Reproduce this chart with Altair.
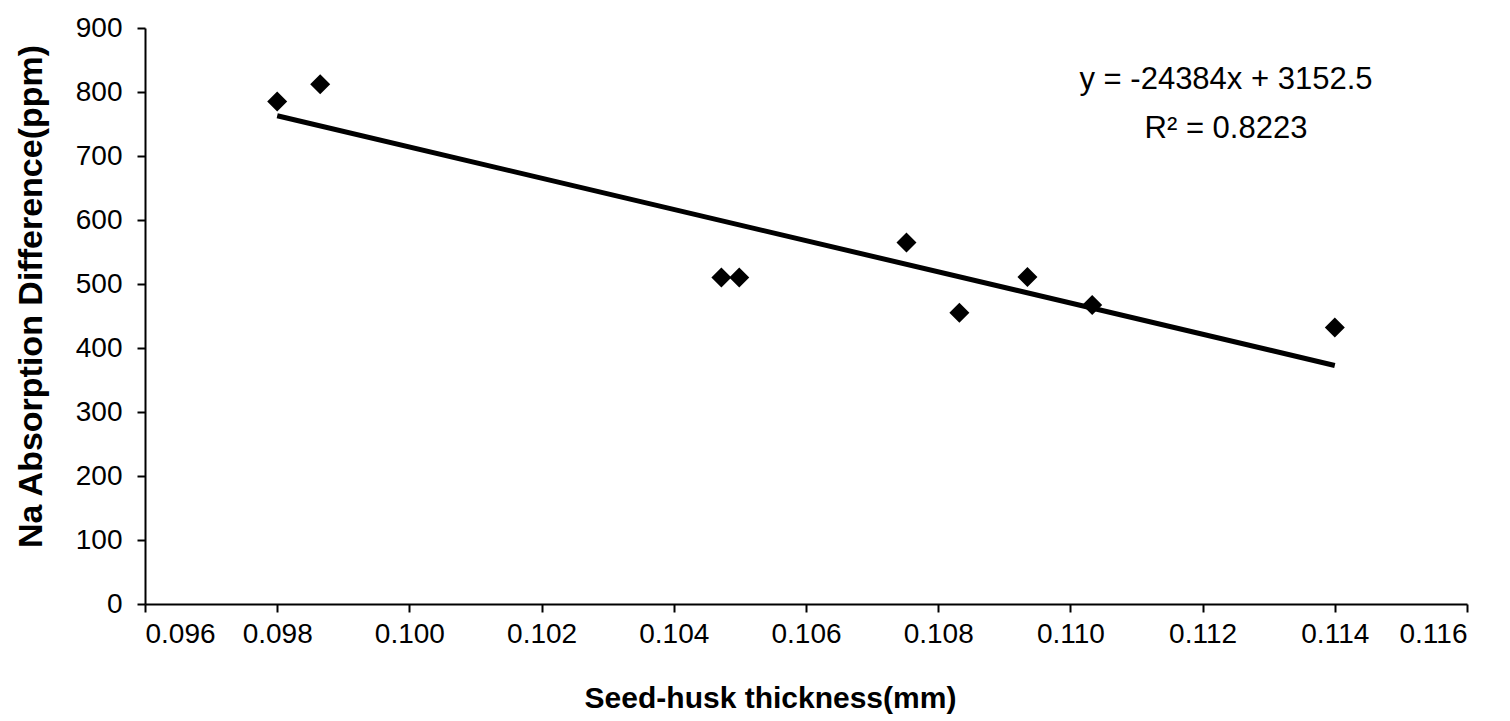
import altair as alt
import pandas as pd

# Data
thickness = [0.0980, 0.09865, 0.10472, 0.10499, 0.10752, 0.10832, 0.10935, 0.11033, 0.1140]
na_diff = [785, 812, 510, 510, 565, 455, 511, 467, 432]

# Trendline stated on chart
slope = -24384
intercept = 3152.5
eq_text = "y = -24384x + 3152.5"
r2_text = "R² = 0.8223"

x_ticks = [0.096, 0.098, 0.100, 0.102, 0.104, 0.106, 0.108, 0.110, 0.112, 0.114, 0.116]
y_ticks = [0, 100, 200, 300, 400, 500, 600, 700, 800, 900]

df = pd.DataFrame({"x": thickness, "y": na_diff})
line_df = pd.DataFrame({"x": [min(thickness), max(thickness)]})

W, H = 1322, 576
FONT = "Liberation Sans"

xscale = alt.Scale(domain=[0.096, 0.116], nice=False, zero=False)
yscale = alt.Scale(domain=[0, 900], nice=False)

xaxis = alt.Axis(
    values=x_ticks, format=".3f", grid=False,
    title="Seed-husk thickness(mm)",
    titleFont=FONT, titleFontSize=30, titleFontWeight="bold", titleColor="black",
    titleX=625, titleY=94, titleBaseline="middle", titleAnchor="middle", titleAlign="center",
    labelFont=FONT, labelFontSize=28, labelColor="black", labelPadding=8,
    domainColor="black", domainWidth=2, tickColor="black", tickWidth=2, tickSize=8,
)
yaxis = alt.Axis(
    values=y_ticks, format="d", grid=False,
    title="Na Absorption Difference(ppm)",
    titleFont=FONT, titleFontSize=34, titleFontWeight="bold", titleColor="black",
    titleX=-114, titleY=268, titleAngle=270, titleBaseline="middle", titleAlign="center",
    labelFont=FONT, labelFontSize=28, labelColor="black", labelPadding=15,
    domainColor="black", domainWidth=2, tickColor="black", tickWidth=2, tickSize=8,
)

points = alt.Chart(df).mark_point(shape="diamond", filled=True, size=400, color="black", opacity=1).encode(
    x=alt.X("x:Q", scale=xscale, axis=xaxis),
    y=alt.Y("y:Q", scale=yscale, axis=yaxis),
)

trend = alt.Chart(line_df).transform_calculate(
    y=f"{slope} * datum.x + {intercept}"
).mark_line(color="black", strokeWidth=5).encode(
    x=alt.X("x:Q", scale=xscale),
    y=alt.Y("y:Q", scale=yscale),
)

eq = alt.Chart(pd.DataFrame({"t": [eq_text]})).mark_text(
    font=FONT, fontSize=31, color="black", align="center", baseline="middle"
).encode(x=alt.value(1081), y=alt.value(52), text="t:N")

r2 = alt.Chart(pd.DataFrame({"t": [r2_text]})).mark_text(
    font=FONT, fontSize=31, color="black", align="center", baseline="middle"
).encode(x=alt.value(1081), y=alt.value(101), text="t:N")

chart = alt.layer(trend, points, eq, r2).properties(
    width=W, height=H,
    autosize=alt.AutoSizeParams(type="none"),
    padding={"left": 145, "top": 28, "right": 43, "bottom": 117},
    background="white",
).configure_view(stroke=None)

chart.save("out.html", embed_options={"renderer": "svg", "actions": False})
